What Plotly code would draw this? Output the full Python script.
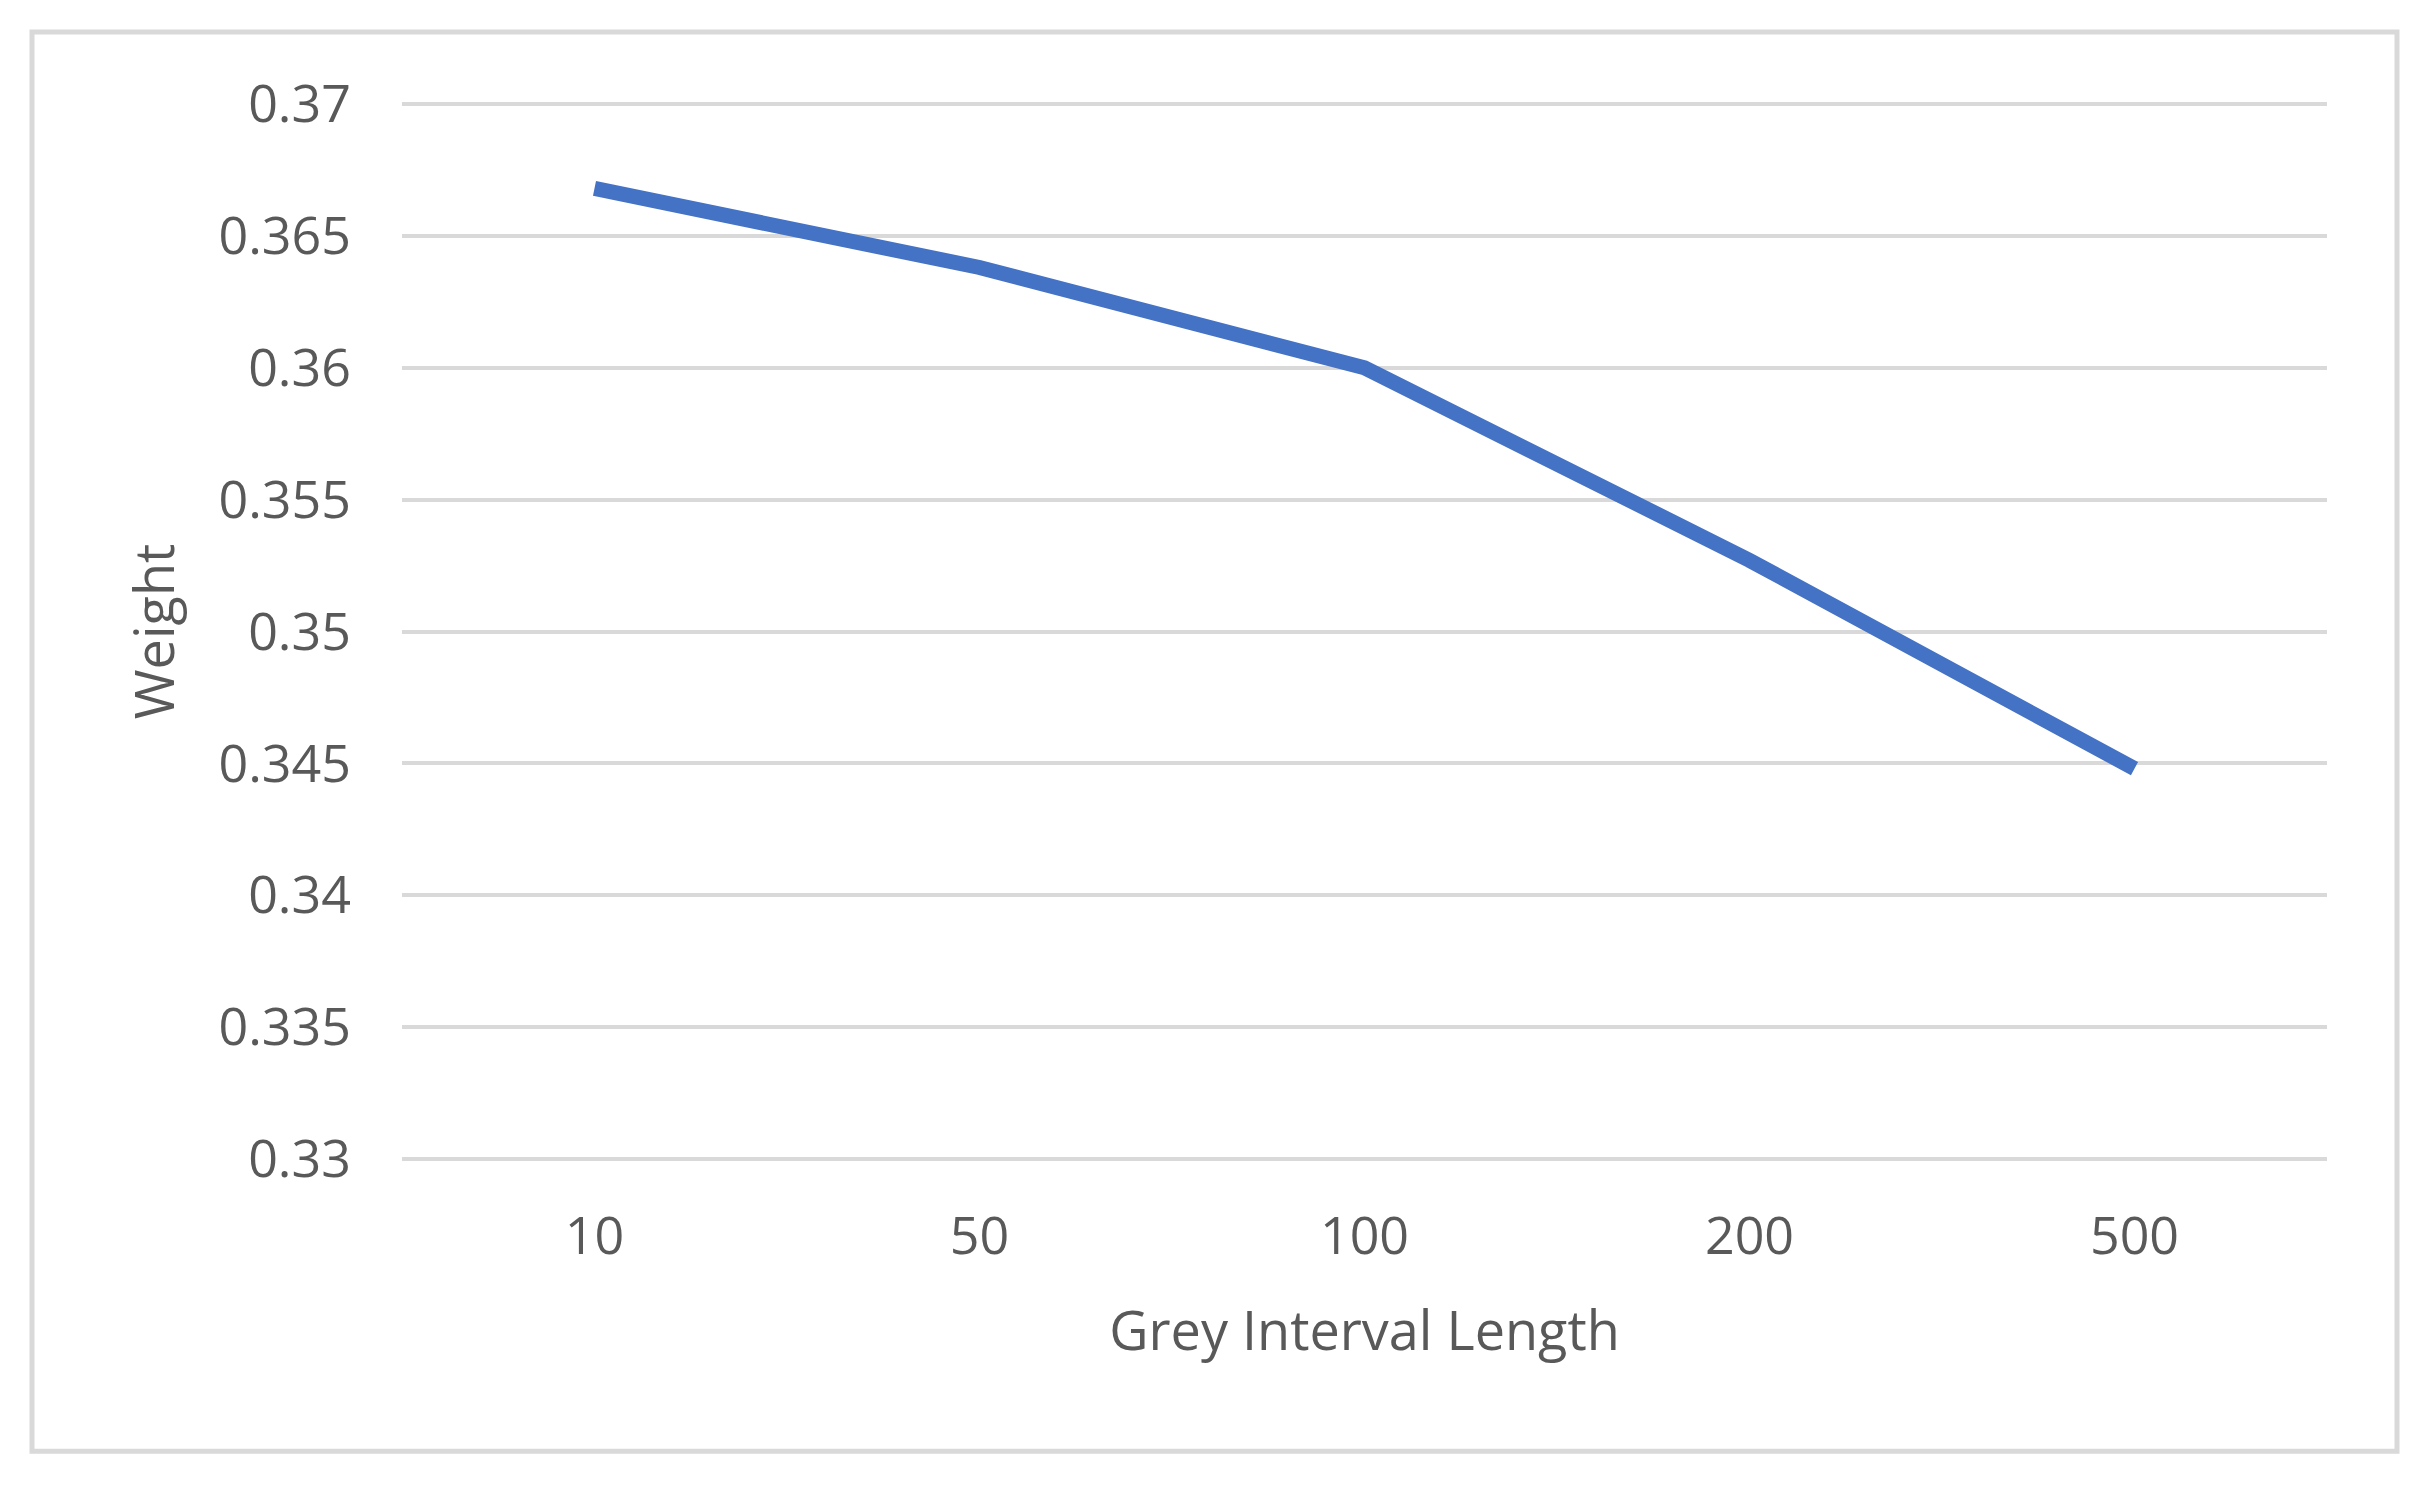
import plotly.graph_objects as go

categories = ["10", "50", "100", "200", "500"]
weights = [0.3668, 0.3638, 0.3600, 0.3527, 0.3448]
y_ticks = [0.33, 0.335, 0.34, 0.345, 0.35, 0.355, 0.36, 0.365, 0.37]
y_tick_labels = ["0.33", "0.335", "0.34", "0.345", "0.35", "0.355", "0.36", "0.365", "0.37"]

W, H = 2427, 1490
FONT = "Open Sans"
TXT = "#595959"

# page body has an 8px offset, compensate in margins
# plot area padded by ~3px top/bottom so edge gridlines are not clipped
L, T, R, B = 394, 93, 2319, 1154.5
PW, PH = R - L, B - T
PAD = 0.04 * 3 / (PH - 6)

fig = go.Figure()
fig.add_trace(go.Scatter(
    x=categories, y=weights, mode="lines",
    line=dict(color="#4472C4", width=15),
    showlegend=False, hoverinfo="skip",
))

fig.update_layout(
    width=W, height=H,
    paper_bgcolor="white", plot_bgcolor="white",
    margin=dict(l=L, r=W - R, t=T, b=H - B, autoexpand=False),
    font=dict(family=FONT, color=TXT, size=52),
    xaxis=dict(
        type="category", categoryorder="array", categoryarray=categories,
        range=[-0.5, 4.5],
        showgrid=False, zeroline=False, showline=False,
        ticks="", ticklabelstandoff=39,
        tickfont=dict(family=FONT, color=TXT, size=52),
        title=dict(text="Grey Interval Length", standoff=44,
                   font=dict(family=FONT, color=TXT, size=54)),
    ),
    yaxis=dict(
        range=[0.33 - PAD, 0.37 + PAD],
        tickmode="array", tickvals=y_ticks, ticktext=y_tick_labels,
        showgrid=True, gridcolor="#d9d9d9", gridwidth=4,
        zeroline=False, showline=False, ticks="",
        ticklabelstandoff=50,
        tickfont=dict(family=FONT, color=TXT, size=52),
        title=dict(text="Weight", standoff=26,
                   font=dict(family=FONT, color=TXT, size=54)),
    ),
    shapes=[dict(
        type="rect", xref="paper", yref="paper",
        x0=(24 - L) / PW, x1=(2389 - L) / PW,
        y0=(B - 1444) / PH, y1=(B - 24) / PH,
        line=dict(color="#d9d9d9", width=5), fillcolor="rgba(0,0,0,0)",
        layer="below",
    )],
)

fig.write_html("out.html")
